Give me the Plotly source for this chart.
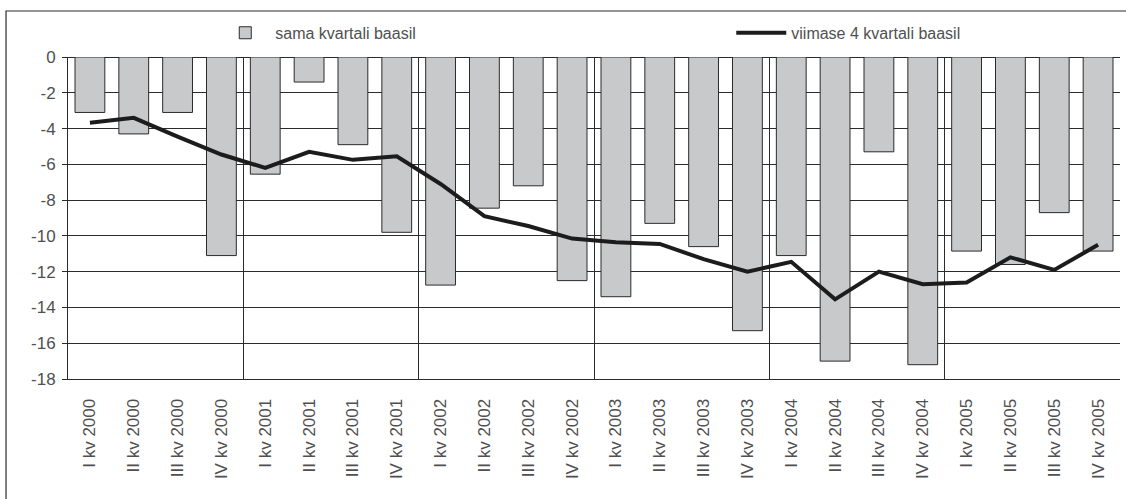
import plotly.graph_objects as go

quarters = ["I kv 2000", "II kv 2000", "III kv 2000", "IV kv 2000",
            "I kv 2001", "II kv 2001", "III kv 2001", "IV kv 2001",
            "I kv 2002", "II kv 2002", "III kv 2002", "IV kv 2002",
            "I kv 2003", "II kv 2003", "III kv 2003", "IV kv 2003",
            "I kv 2004", "II kv 2004", "III kv 2004", "IV kv 2004",
            "I kv 2005", "II kv 2005", "III kv 2005", "IV kv 2005"]

sama_kvartali = [-3.1, -4.3, -3.1, -11.1,
                 -6.55, -1.4, -4.9, -9.8,
                 -12.75, -8.45, -7.2, -12.5,
                 -13.4, -9.3, -10.6, -15.3,
                 -11.1, -17.0, -5.3, -17.2,
                 -10.85, -11.6, -8.7, -10.85]

viimase_4 = [-3.67, -3.4, -4.45, -5.45,
             -6.2, -5.3, -5.75, -5.55,
             -7.1, -8.9, -9.45, -10.15,
             -10.35, -10.45, -11.3, -12.0,
             -11.45, -13.55, -12.0, -12.7,
             -12.6, -11.2, -11.9, -10.5]

name_bar = "sama kvartali baasil"
name_line = "viimase 4 kvartali baasil"

y_ticks = list(range(-18, 1, 2))
year_bounds = [3.5, 7.5, 11.5, 15.5, 19.5, 23.5]

x = list(range(len(quarters)))
font_family = "Liberation Sans, Arial, sans-serif"
txt = "#505050"
dark = "#2b2b2b"

fig = go.Figure()
fig.add_trace(go.Bar(
    x=x, y=sama_kvartali, name=name_bar,
    marker=dict(color="#c8c9cb", line=dict(color=dark, width=1)),
))
fig.add_trace(go.Scatter(
    x=x, y=viimase_4, name=name_line, mode="lines",
    line=dict(color="#1c1c1c", width=4),
))

fig.update_layout(
    width=1126, height=499,
    margin=dict(l=68, r=6, t=57, b=120, autoexpand=False),
    paper_bgcolor="white", plot_bgcolor="white",
    font=dict(family=font_family, size=16, color=txt),
    bargap=0.32,
    showlegend=True,
    legend=dict(orientation="h", x=0.14, xanchor="left", y=1.075, yanchor="middle",
                entrywidth=451, entrywidthmode="pixels", itemwidth=50,
                font=dict(size=16, color=txt), bgcolor="rgba(0,0,0,0)"),
    shapes=[dict(type="rect", xref="paper", yref="paper",
                 x0=-0.0589, x1=1.012, y0=-0.45, y1=1.1429,
                 line=dict(color=dark, width=1.2), fillcolor="rgba(0,0,0,0)", layer="below")],
)

fig.update_xaxes(
    range=[-0.5, 23.5], tickmode="array", tickvals=x, ticktext=quarters,
    tickangle=-90, showgrid=False, zeroline=False,
    showline=True, linecolor=dark, linewidth=1,
    ticks="outside", ticklen=12, tickcolor="rgba(0,0,0,0)",
    tickfont=dict(size=17, color=txt),
    minor=dict(tickmode="array", tickvals=year_bounds, showgrid=True,
               gridcolor=dark, gridwidth=1, ticks=""),
)
fig.update_yaxes(
    range=[-18, 0], tickmode="array", tickvals=y_ticks,
    ticktext=[str(v) for v in y_ticks],
    showgrid=True, gridcolor=dark, gridwidth=1,
    zeroline=True, zerolinecolor=dark, zerolinewidth=1,
    showline=True, linecolor=dark, linewidth=1,
    ticks="outside", ticklen=5, tickcolor=dark, ticklabelstandoff=3,
    tickfont=dict(size=17, color=txt),
)

fig.write_html("out.html", config={"displayModeBar": False},
               post_script="document.body.style.margin='0';")
